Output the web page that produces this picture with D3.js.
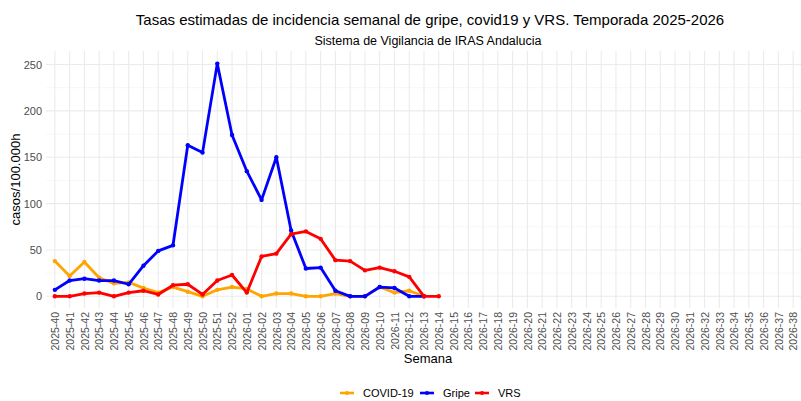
<!DOCTYPE html>
<html>
<head>
<meta charset="utf-8">
<script src="https://cdn.jsdelivr.net/npm/d3@7"></script>
<style>
  body { margin: 0; background: #fff; }
  svg { font-family: "Liberation Sans", Arial, sans-serif; }
</style>
</head>
<body>
<svg id="chart" width="801" height="401"></svg>
<script>
// weeks 2025-40 .. 2026-38
var semanas = [];
for (var w = 40; w <= 52; w++) semanas.push("2025-" + w);
for (var w2 = 1; w2 <= 38; w2++) semanas.push("2026-" + (w2 < 10 ? "0" + w2 : w2));

var covid = [38, 22, 37, 20, 14, 15, 9, 4, 10, 5, 0, 7, 10, 8, 0, 3, 3, 0, 0, 3, 0, 0, 10, 4, 6, 0];
var gripe = [7, 17, 19, 17, 17, 13, 33, 49, 55, 163, 155, 251, 174, 135, 104, 150, 71, 30, 31, 6, 0, 0, 10, 9, 0, 0];
var vrs = [0, 0, 3, 4, 0, 4, 6, 2, 12, 13, 2, 17, 23, 4, 43, 46, 67, 70, 62, 39, 38, 28, 31, 27, 21, 0, 0];

var yTicks = [0, 50, 100, 150, 200, 250];
var yMinor = [25, 75, 125, 175, 225];

var series = [
  { name: "COVID-19", values: covid, color: "#FFA500" },
  { name: "Gripe", values: gripe, color: "#0000FF" },
  { name: "VRS", values: vrs, color: "#FF0000" }
];

var svg = d3.select("#chart");
var panel = { left: 46, right: 802, top: 51, bottom: 308 };

var x = d3.scalePoint()
  .domain(semanas)
  .range([panel.left, panel.right])
  .padding(0.6);

var y = d3.scaleLinear()
  .domain([-12.6, 264.6])
  .range([panel.bottom, panel.top]);

var grid = svg.append("g");
grid.selectAll("line.minor")
  .data(yMinor)
  .enter().append("line")
  .attr("x1", panel.left).attr("x2", panel.right)
  .attr("y1", function (d) { return y(d); })
  .attr("y2", function (d) { return y(d); })
  .attr("stroke", "#f2f2f2").attr("stroke-width", 0.6);
grid.selectAll("line.major")
  .data(yTicks)
  .enter().append("line")
  .attr("x1", panel.left).attr("x2", panel.right)
  .attr("y1", function (d) { return y(d); })
  .attr("y2", function (d) { return y(d); })
  .attr("stroke", "#ebebeb").attr("stroke-width", 1.1);
grid.selectAll("line.vert")
  .data(semanas)
  .enter().append("line")
  .attr("x1", function (d) { return x(d); })
  .attr("x2", function (d) { return x(d); })
  .attr("y1", panel.top).attr("y2", panel.bottom)
  .attr("stroke", "#ebebeb").attr("stroke-width", 1.1);

// axes
var yAxis = svg.append("g")
  .attr("transform", "translate(" + panel.left + ",0)")
  .call(d3.axisLeft(y).tickValues(yTicks).tickSize(0).tickPadding(4));
yAxis.select(".domain").remove();
yAxis.selectAll("text").attr("fill", "#4d4d4d").style("font-size", "11px");

var xAxis = svg.append("g")
  .attr("transform", "translate(0," + panel.bottom + ")")
  .call(d3.axisBottom(x).tickSize(0));
xAxis.select(".domain").remove();
xAxis.selectAll("text")
  .attr("fill", "#4d4d4d")
  .style("font-size", "10.5px")
  .attr("text-anchor", "end")
  .attr("dy", "0.35em")
  .attr("transform", "translate(0,4) rotate(-90)")
  .attr("x", 0).attr("y", 0);

// lines
var line = d3.line()
  .x(function (d, i) { return x(semanas[i]); })
  .y(function (d) { return y(d); });

var g = svg.append("g");
series.forEach(function (s) {
  g.append("path")
    .datum(s.values)
    .attr("fill", "none")
    .attr("stroke", s.color)
    .attr("stroke-width", 2.8)
    .attr("stroke-linejoin", "round")
    .attr("d", line);
  g.selectAll(null)
    .data(s.values)
    .enter().append("circle")
    .attr("cx", function (d, i) { return x(semanas[i]); })
    .attr("cy", function (d) { return y(d); })
    .attr("r", 2.2)
    .attr("fill", s.color);
});

// titles
svg.append("text")
  .attr("x", 430).attr("y", 25)
  .attr("text-anchor", "middle")
  .style("font-size", "15px")
  .attr("fill", "#000")
  .text("Tasas estimadas de incidencia semanal de gripe, covid19 y VRS. Temporada 2025-2026");
svg.append("text")
  .attr("x", 428).attr("y", 45)
  .attr("text-anchor", "middle")
  .style("font-size", "12.5px")
  .attr("fill", "#000")
  .text("Sistema de Vigilancia de IRAS Andalucia");

svg.append("text")
  .attr("transform", "translate(20," + ((panel.top + panel.bottom) / 2) + ") rotate(-90)")
  .attr("text-anchor", "middle")
  .style("font-size", "13px")
  .text("casos/100.000h");

svg.append("text")
  .attr("x", 428).attr("y", 363)
  .attr("text-anchor", "middle")
  .style("font-size", "13px")
  .text("Semana");

// legend
var legendX = [340, 420, 475];
var legend = svg.append("g").attr("transform", "translate(0,393)");
series.forEach(function (s, i) {
  var lg = legend.append("g").attr("transform", "translate(" + legendX[i] + ",0)");
  lg.append("line").attr("x1", 0).attr("x2", 14).attr("y1", 0).attr("y2", 0)
    .attr("stroke", s.color).attr("stroke-width", 2.6);
  lg.append("circle").attr("cx", 7).attr("cy", 0).attr("r", 2).attr("fill", s.color);
  lg.append("text").attr("x", 23).attr("y", 0).attr("dy", "0.35em")
    .style("font-size", "11px").attr("fill", "#000").text(s.name);
});
</script>
</body>
</html>
